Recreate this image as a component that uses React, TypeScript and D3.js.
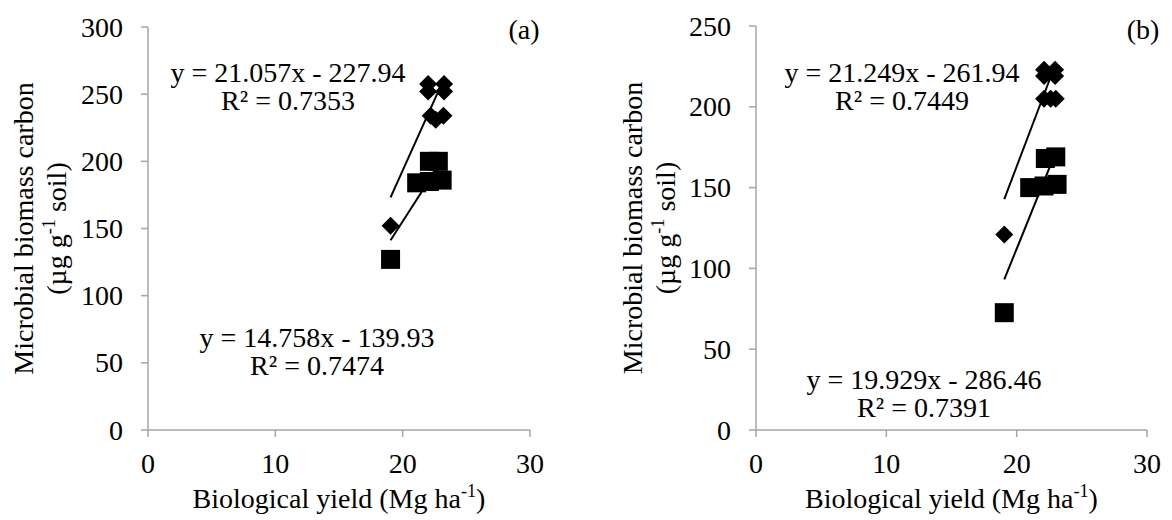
import React from 'react';
import * as d3 from 'd3';

// ---- Data ----
// Panel (a)
const yieldA_diamond = [19.05, 22.0, 23.25, 22.0, 23.25, 22.2, 23.2, 22.6];
const mbcA_diamond = [152, 257.5, 257.5, 252, 252, 234, 234, 231];
const yieldA_square = [19.05, 21.1, 22.1, 23.1, 22.1, 22.8];
const mbcA_square = [127, 184, 185, 186, 200, 200];
// Panel (b)
const yieldB_diamond = [19.05, 22.1, 22.95, 22.1, 22.95, 22.1, 22.6, 23.0];
const mbcB_diamond = [121, 223, 223, 219, 219, 205, 205, 205];
const yieldB_square = [19.05, 21.0, 22.1, 23.1, 22.2, 23.0];
const mbcB_square = [72.6, 150, 151, 152, 168, 169];

// Trendlines [slope, intercept] and R²
const trendA = [[21.057, -227.94], [14.758, -139.93]];
const r2A = [0.7353, 0.7474];
const trendB = [[21.249, -261.94], [19.929, -286.46]];
const r2B = [0.7449, 0.7391];

const xTicks = [0, 10, 20, 30];
const yTicksA = [0, 50, 100, 150, 200, 250, 300];
const yTicksB = [0, 50, 100, 150, 200, 250];

const FONT = '"Liberation Serif", "Times New Roman", serif';
const FS = 28;
const AXIS = '#a6a6a6';

const diamondPath = d3.symbol().type(d3.symbolSquare).size(162)();

function eqText(slope: number, intercept: number) {
  const s = intercept < 0 ? '-' : '+';
  return `y = ${slope.toFixed(3)}x ${s} ${Math.abs(intercept).toFixed(2)}`;
}

type PanelProps = {
  left: number; right: number; top: number; bottom: number;
  yMax: number; yTicks: number[];
  dX: number[]; dY: number[]; sX: number[]; sY: number[];
  trend: number[][]; r2: number[];
  eqPos: { x: number; y: number; gap: number }[];
  label: string; labelX: number;
  titleX1: number; titleX2: number;
};

function Panel(p: PanelProps) {
  const x = d3.scaleLinear().domain([0, 30]).range([p.left, p.right]);
  const y = d3.scaleLinear().domain([0, p.yMax]).range([p.bottom, p.top]);
  const line = d3.line<number[]>().x(d => x(d[0])).y(d => y(d[1]));
  const seriesX = [p.dX, p.sX];
  const cy = (p.top + p.bottom) / 2;
  return (
    <g fontFamily={FONT} fontSize={FS} fill="#000">
      {/* axes */}
      <line x1={x(0)} x2={x(30)} y1={y(0)} y2={y(0)} stroke={AXIS} strokeWidth={1.5} />
      <line x1={x(0)} x2={x(0)} y1={y(0)} y2={y(p.yMax)} stroke={AXIS} strokeWidth={1.5} />
      {xTicks.map(t => (
        <g key={'xt' + t}>
          <line x1={x(t)} x2={x(t)} y1={y(0)} y2={y(0) + 7} stroke={AXIS} strokeWidth={1.5} />
          <text x={x(t)} y={y(0) + 43} textAnchor="middle">{t}</text>
        </g>
      ))}
      {p.yTicks.map(t => (
        <g key={'yt' + t}>
          <line x1={x(0) - 7} x2={x(0)} y1={y(t)} y2={y(t)} stroke={AXIS} strokeWidth={1.5} />
          <text x={x(0) - 25} y={y(t)} dy="0.34em" textAnchor="end">{t}</text>
        </g>
      ))}
      {/* axis titles */}
      <text x={(x(0) + x(30)) / 2} y={y(0) + 78} textAnchor="middle">
        Biological yield (Mg ha<tspan fontSize={FS * 0.65} dy={-11}>-1</tspan><tspan dy={11}>)</tspan>
      </text>
      <text transform={`translate(${p.titleX1},${cy}) rotate(-90)`} textAnchor="middle">Microbial biomass carbon</text>
      <text transform={`translate(${p.titleX2},${cy}) rotate(-90)`} textAnchor="middle">
        (µg g<tspan fontSize={FS * 0.65} dy={-11}>-1</tspan><tspan dy={11}> soil)</tspan>
      </text>
      {/* trendlines */}
      {p.trend.map((tr, i) => {
        const xs = seriesX[i];
        const x0 = d3.min(xs) as number, x1 = d3.max(xs) as number;
        const pts = [[x0, tr[0] * x0 + tr[1]], [x1, tr[0] * x1 + tr[1]]];
        return <path key={'tl' + i} d={line(pts) || ''} stroke="#000" strokeWidth={2} fill="none" />;
      })}
      {/* squares */}
      {p.sX.map((v, i) => (
        <rect key={'s' + i} x={x(v) - 9.5} y={y(p.sY[i]) - 9.5} width={19} height={19} fill="#000" />
      ))}
      {/* diamonds */}
      {p.dX.map((v, i) => (
        <path key={'d' + i} d={diamondPath || ''} transform={`translate(${x(v)},${y(p.dY[i])}) rotate(45)`} fill="#000" />
      ))}
      {/* equations */}
      {p.trend.map((tr, i) => (
        <g key={'eq' + i}>
          <text x={p.eqPos[i].x} y={p.eqPos[i].y} textAnchor="middle">{eqText(tr[0], tr[1])}</text>
          <text x={p.eqPos[i].x} y={p.eqPos[i].y + p.eqPos[i].gap} textAnchor="middle">{`R² = ${p.r2[i].toFixed(4)}`}</text>
        </g>
      ))}
      <text x={p.labelX} y={39} textAnchor="middle">{p.label}</text>
    </g>
  );
}

export default function App() {
  return (
    <svg width={1172} height={520} style={{ position: 'absolute', left: 0, top: 0, background: '#fff' }}>
      <rect width={1172} height={520} fill="#fff" />
      <Panel left={148} right={530} top={27} bottom={430} yMax={300} yTicks={yTicksA}
        dX={yieldA_diamond} dY={mbcA_diamond} sX={yieldA_square} sY={mbcA_square}
        trend={trendA} r2={r2A}
        eqPos={[{ x: 288, y: 82, gap: 28 }, { x: 317, y: 347, gap: 28 }]}
        label="(a)" labelX={524} titleX1={33} titleX2={66} />
      <Panel left={756} right={1147} top={26} bottom={430} yMax={250} yTicks={yTicksB}
        dX={yieldB_diamond} dY={mbcB_diamond} sX={yieldB_square} sY={mbcB_square}
        trend={trendB} r2={r2B}
        eqPos={[{ x: 902, y: 82, gap: 28 }, { x: 924, y: 389, gap: 28 }]}
        label="(b)" labelX={1143} titleX1={642} titleX2={675} />
    </svg>
  );
}
